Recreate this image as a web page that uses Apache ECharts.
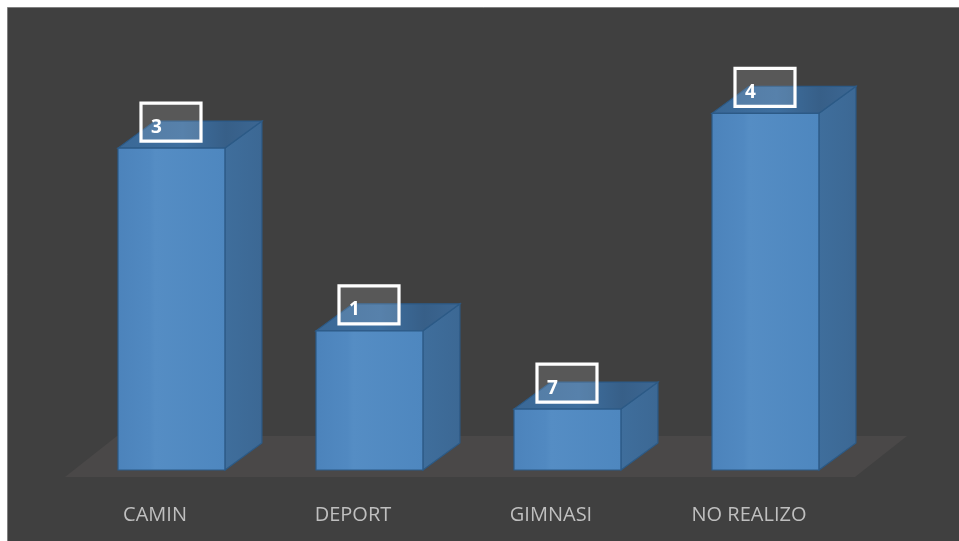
<!DOCTYPE html>
<html>
<head>
<meta charset="utf-8">
<script src="https://cdn.jsdelivr.net/npm/echarts@6/dist/echarts.min.js"></script>
<style>
  html, body { margin: 0; padding: 0; background: #ffffff; }
  #chart { width: 959px; height: 541px; }
</style>
</head>
<body>
<div id="chart"></div>
<script>
// Activity categories and their share (percent)
const categories = ['CAMIN', 'DEPORT', 'GIMNASI', 'NO REALIZO'];
const shares = [37, 16, 7, 41];

const chart = echarts.init(document.getElementById('chart'));

// 3D-style prism depth, in pixels
const DX = 37, DY = 27;

function renderBar(params, api) {
  const idx = api.value(0);
  const val = api.value(1);
  const base = api.coord([idx, 0]);
  const top = api.coord([idx, val]);
  const band = api.size([1, 0])[0];
  const w = band * 0.54;
  const xl = base[0] - DX;
  const xr = xl + w;
  const yb = base[1];
  const yt = top[1];
  const edge = '#2c5a86';
  return {
    type: 'group',
    children: [
      {
        type: 'polygon',
        shape: { points: [[xr, yb], [xr, yt], [xr + DX, yt - DY], [xr + DX, yb - DY]] },
        style: {
          fill: new echarts.graphic.LinearGradient(0, 0, 1, 0, [
            { offset: 0, color: '#3f6e9c' },
            { offset: 1, color: '#3c6894' }
          ]),
          stroke: edge, lineWidth: 1.2
        }
      },
      {
        type: 'polygon',
        shape: { points: [[xl, yt], [xr, yt], [xr + DX, yt - DY], [xl + DX, yt - DY]] },
        style: {
          fill: new echarts.graphic.LinearGradient(0, 0, 1, 0, [
            { offset: 0, color: '#3a6896' },
            { offset: 0.45, color: '#3e6f9f' },
            { offset: 0.75, color: '#375f88' },
            { offset: 1, color: '#3c6793' }
          ]),
          stroke: edge, lineWidth: 1.2
        }
      },
      {
        type: 'rect',
        shape: { x: xl, y: yt, width: w, height: yb - yt },
        style: {
          fill: new echarts.graphic.LinearGradient(0, 0, 1, 0, [
            { offset: 0, color: '#4c83bb' },
            { offset: 0.3, color: '#5189c1' },
            { offset: 0.35, color: '#558dc4' },
            { offset: 1, color: '#4e87bf' }
          ]),
          stroke: edge, lineWidth: 1.2
        }
      },
      {
        // value label inside a fixed-size box that only has room for one digit
        type: 'text',
        x: xl + 23,
        y: yt - 7,
        style: {
          text: val + '%',
          fill: '#ffffff',
          fontSize: 19,
          fontWeight: 'bold',
          fontFamily: '"Open Sans", sans-serif',
          verticalAlign: 'bottom',
          align: 'left',
          width: 15,
          lineHeight: 22,
          overflow: 'truncate',
          ellipsis: '',
          padding: [13, 35, 3, 10],
          backgroundColor: 'rgba(255,255,255,0.13)',
          borderColor: '#ffffff',
          borderWidth: 1.6
        }
      }
    ]
  };
}

function renderFloor(params, api) {
  const cs = params.coordSys;
  const yf = cs.y + cs.height + 7;
  const x0 = cs.x + 9;
  const x1 = cs.x + cs.width + 7;
  const fx = 52, fy = 41;
  return {
    type: 'polygon',
    shape: { points: [[x0, yf], [x1, yf], [x1 + fx, yf - fy], [x0 + fx, yf - fy]] },
    style: { fill: '#4a4848' }
  };
}

chart.setOption({
  backgroundColor: '#ffffff',
  animation: false,
  graphic: [{
    type: 'rect',
    left: 7, top: 7,
    shape: { width: 960, height: 540 },
    style: { fill: '#404040', stroke: '#808080', lineWidth: 1 },
    z: -10
  }],
  grid: { left: 56, width: 792, top: 35, height: 435 },
  xAxis: {
    type: 'category',
    data: categories,
    axisLine: { show: false },
    axisTick: { show: false },
    splitLine: { show: false },
    axisLabel: {
      color: '#bfbfbf',
      fontSize: 20,
      fontFamily: '"Open Sans", sans-serif',
      margin: 35
    }
  },
  yAxis: {
    type: 'value',
    min: 0, max: 50,
    show: false,
    splitLine: { show: false }
  },
  series: [
    {
      type: 'custom',
      renderItem: renderFloor,
      data: [[0, 0]],
      z: 1,
      silent: true
    },
    {
      type: 'custom',
      renderItem: renderBar,
      data: shares.map((v, i) => [i, v]),
      z: 2
    }
  ]
});
</script>
</body>
</html>
